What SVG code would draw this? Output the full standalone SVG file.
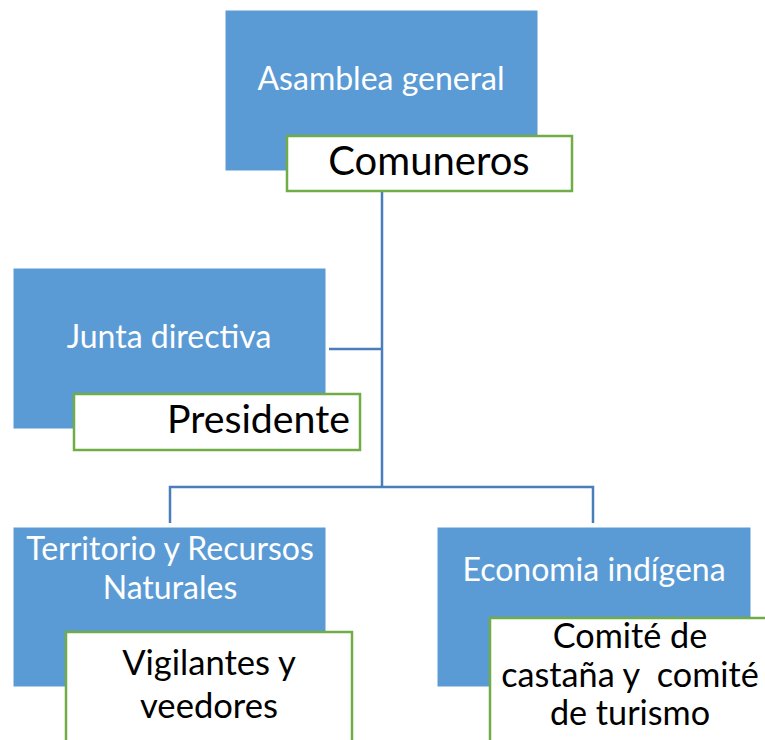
<svg xmlns="http://www.w3.org/2000/svg" width="765" height="740" viewBox="0 0 765 740">
<style>
.blue{fill:#5B9BD5;stroke:#FFFFFF;stroke-width:1}
.sub{fill:#FFFFFF;stroke:#70AD47;stroke-width:2.5}
.bt{font-family:Lato,"Open Sans",sans-serif;font-size:32px;fill:#FFFFFF;text-anchor:middle}
.st{font-family:Lato,"Open Sans",sans-serif;fill:#000000;text-anchor:middle}
.con{fill:none;stroke:#4A7EBB;stroke-width:2.5}
</style>
<rect width="765" height="740" fill="#FFFFFF"/>
<g id="connectors">
<path class="con" d="M382,191 V487"/>
<path class="con" d="M329,349 H382"/>
<path class="con" d="M170,523 V487 H593 V523"/>
</g>
<g id="asamblea">
<rect class="blue" x="225" y="10" width="313" height="161"/>
<text class="bt" x="381" y="90">Asamblea general</text>
<rect class="sub" x="287" y="136" width="285" height="55"/>
<text class="st" x="429" y="175" style="font-size:40px">Comuneros</text>
</g>
<g id="junta">
<rect class="blue" x="13" y="268" width="313" height="161"/>
<text class="bt" x="169" y="348">Junta directiva</text>
<rect class="sub" x="74" y="394" width="286" height="56"/>
<text class="st" x="350" y="433" style="font-size:39.3px;text-anchor:end">Presidente</text>
</g>
<g id="territorio">
<rect class="blue" x="13" y="527" width="313" height="160"/>
<text class="bt" x="170" y="560">Territorio y Recursos</text>
<text class="bt" x="170" y="599">Naturales</text>
<rect class="sub" x="66" y="632" width="286" height="120"/>
<text class="st" x="209" y="675" style="font-size:34.6px">Vigilantes y</text>
<text class="st" x="209" y="718" style="font-size:34.6px">veedores</text>
</g>
<g id="economia">
<rect class="blue" x="437" y="527" width="314" height="160"/>
<text class="bt" x="594" y="581">Economia indígena</text>
<rect class="sub" x="490" y="618" width="290" height="130"/>
<text class="st" x="630" y="648" style="font-size:34.2px">Comité de</text>
<text class="st" x="630" y="687" style="font-size:34.2px" xml:space="preserve">castaña y  comité</text>
<text class="st" x="630" y="725" style="font-size:34.2px">de turismo</text>
</g>
</svg>
